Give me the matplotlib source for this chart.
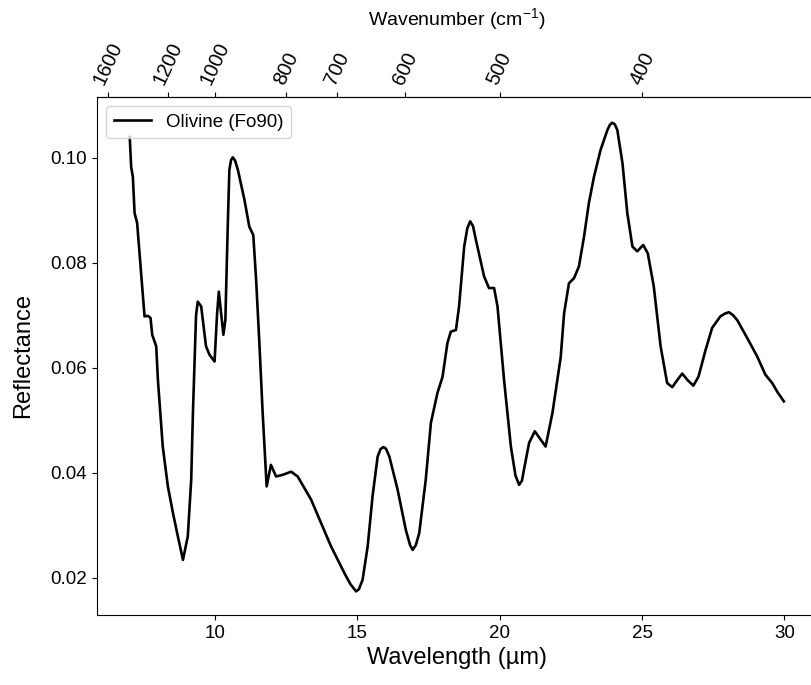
import numpy as np
import matplotlib
matplotlib.use("Agg")
import matplotlib.pyplot as plt

plt.rcParams["font.family"] = ["Liberation Sans", "DejaVu Sans"]
plt.rcParams["mathtext.fontset"] = "custom"
plt.rcParams["mathtext.rm"] = "Liberation Sans"
plt.rcParams["mathtext.it"] = "Liberation Sans:italic"

# Olivine (Fo90) thermal-IR reflectance spectrum
wavelength_um = [
    7.00, 7.05, 7.11, 7.17, 7.26, 7.40, 7.52, 7.64, 7.73, 7.79, 7.93, 7.99,
    8.16, 8.34, 8.52, 8.69, 8.87, 9.04, 9.16, 9.22, 9.27, 9.33, 9.39, 9.51,
    9.68, 9.80, 9.98, 10.07, 10.13, 10.21, 10.29, 10.36, 10.44, 10.50, 10.56,
    10.62, 10.70, 10.80, 11.03, 11.20, 11.34, 11.44, 11.56, 11.67, 11.81,
    11.96, 12.14, 12.37, 12.67, 12.90, 13.37, 14.07, 14.54, 14.75, 14.95,
    15.05, 15.18, 15.36, 15.53, 15.71, 15.81, 15.91, 16.00, 16.12, 16.41,
    16.70, 16.85, 16.94, 17.05, 17.17, 17.40, 17.58, 17.81, 17.99, 18.16,
    18.28, 18.46, 18.57, 18.75, 18.86, 18.96, 19.06, 19.16, 19.45, 19.62,
    19.80, 19.92, 20.15, 20.39, 20.55, 20.68, 20.78, 20.85, 21.03, 21.23,
    21.44, 21.61, 21.85, 22.14, 22.26, 22.43, 22.61, 22.78, 22.96, 23.13,
    23.31, 23.54, 23.78, 23.87, 23.95, 24.04, 24.13, 24.31, 24.48, 24.66,
    24.83, 25.04, 25.20, 25.41, 25.65, 25.88, 26.06, 26.24, 26.41, 26.59,
    26.80, 26.98, 27.23, 27.46, 27.75, 27.90, 28.05, 28.20, 28.34, 28.69,
    29.04, 29.33, 29.57, 29.74, 29.98,
]
reflectance = [
    0.1040, 0.0983, 0.0964, 0.0895, 0.0876, 0.0780, 0.0698, 0.0699, 0.0695,
    0.0663, 0.0641, 0.0577, 0.0450, 0.0374, 0.0323, 0.0279, 0.0234, 0.0279,
    0.0387, 0.0514, 0.0600, 0.0700, 0.0726, 0.0717, 0.0641, 0.0625, 0.0612,
    0.0704, 0.0745, 0.0704, 0.0663, 0.0691, 0.0863, 0.0977, 0.0996, 0.1001,
    0.0995, 0.0977, 0.0920, 0.0869, 0.0853, 0.0768, 0.0641, 0.0514, 0.0374,
    0.0415, 0.0393, 0.0396, 0.0402, 0.0393, 0.0349, 0.0260, 0.0209, 0.0188,
    0.0174, 0.0178, 0.0196, 0.0260, 0.0355, 0.0431, 0.0445, 0.0449, 0.0446,
    0.0431, 0.0368, 0.0291, 0.0262, 0.0253, 0.0262, 0.0285, 0.0387, 0.0495,
    0.0552, 0.0583, 0.0647, 0.0669, 0.0672, 0.0717, 0.0831, 0.0866, 0.0879,
    0.0870, 0.0844, 0.0774, 0.0752, 0.0752, 0.0717, 0.0577, 0.0450, 0.0395,
    0.0377, 0.0385, 0.0406, 0.0457, 0.0479, 0.0463, 0.0450, 0.0514, 0.0620,
    0.0704, 0.0761, 0.0771, 0.0793, 0.0850, 0.0914, 0.0964, 0.1015, 0.1053,
    0.1063, 0.1067, 0.1064, 0.1053, 0.0990, 0.0895, 0.0831, 0.0822, 0.0834,
    0.0818, 0.0755, 0.0641, 0.0571, 0.0563, 0.0577, 0.0589, 0.0577, 0.0566,
    0.0583, 0.0634, 0.0676, 0.0698, 0.0703, 0.0706, 0.0700, 0.0691, 0.0657,
    0.0622, 0.0587, 0.0571, 0.0555, 0.0536,
]
wavenumber_ticks = [1600, 1200, 1000, 800, 700, 600, 500, 400]


def um_to_cm(x):
    x = np.asarray(x, dtype=float)
    with np.errstate(divide="ignore"):
        return 1e4 / x


fig = plt.figure(figsize=(8.11, 6.85), dpi=100)
ax = fig.add_axes([0.1196, 0.1022, 0.888, 0.7562])

ax.plot(wavelength_um, reflectance, color="black", linewidth=1.9,
        label="Olivine (Fo90)")
ax.set_xlim(5.85, 31.15)
ax.set_ylim(0.0129, 0.1116)
ax.set_xticks([10, 15, 20, 25, 30])
ax.set_yticks([0.02, 0.04, 0.06, 0.08, 0.10])
ax.yaxis.set_major_formatter(matplotlib.ticker.FormatStrFormatter("%.2f"))
ax.tick_params(labelsize=13.5)
ax.set_xlabel("Wavelength (µm)", fontsize=17)
ax.set_ylabel("Reflectance", fontsize=17, labelpad=12)
ax.legend(loc="upper left", fontsize=13.5)

top = ax.secondary_xaxis("top", functions=(um_to_cm, um_to_cm))
top.set_xticks(wavenumber_ticks)
top.set_xticklabels([str(t) for t in wavenumber_ticks], rotation=65)
top.tick_params(labelsize=14.5)
top.set_xlabel("Wavenumber (cm$^{-1}$)", fontsize=14, labelpad=10)

fig.savefig("out.png", dpi=100)
